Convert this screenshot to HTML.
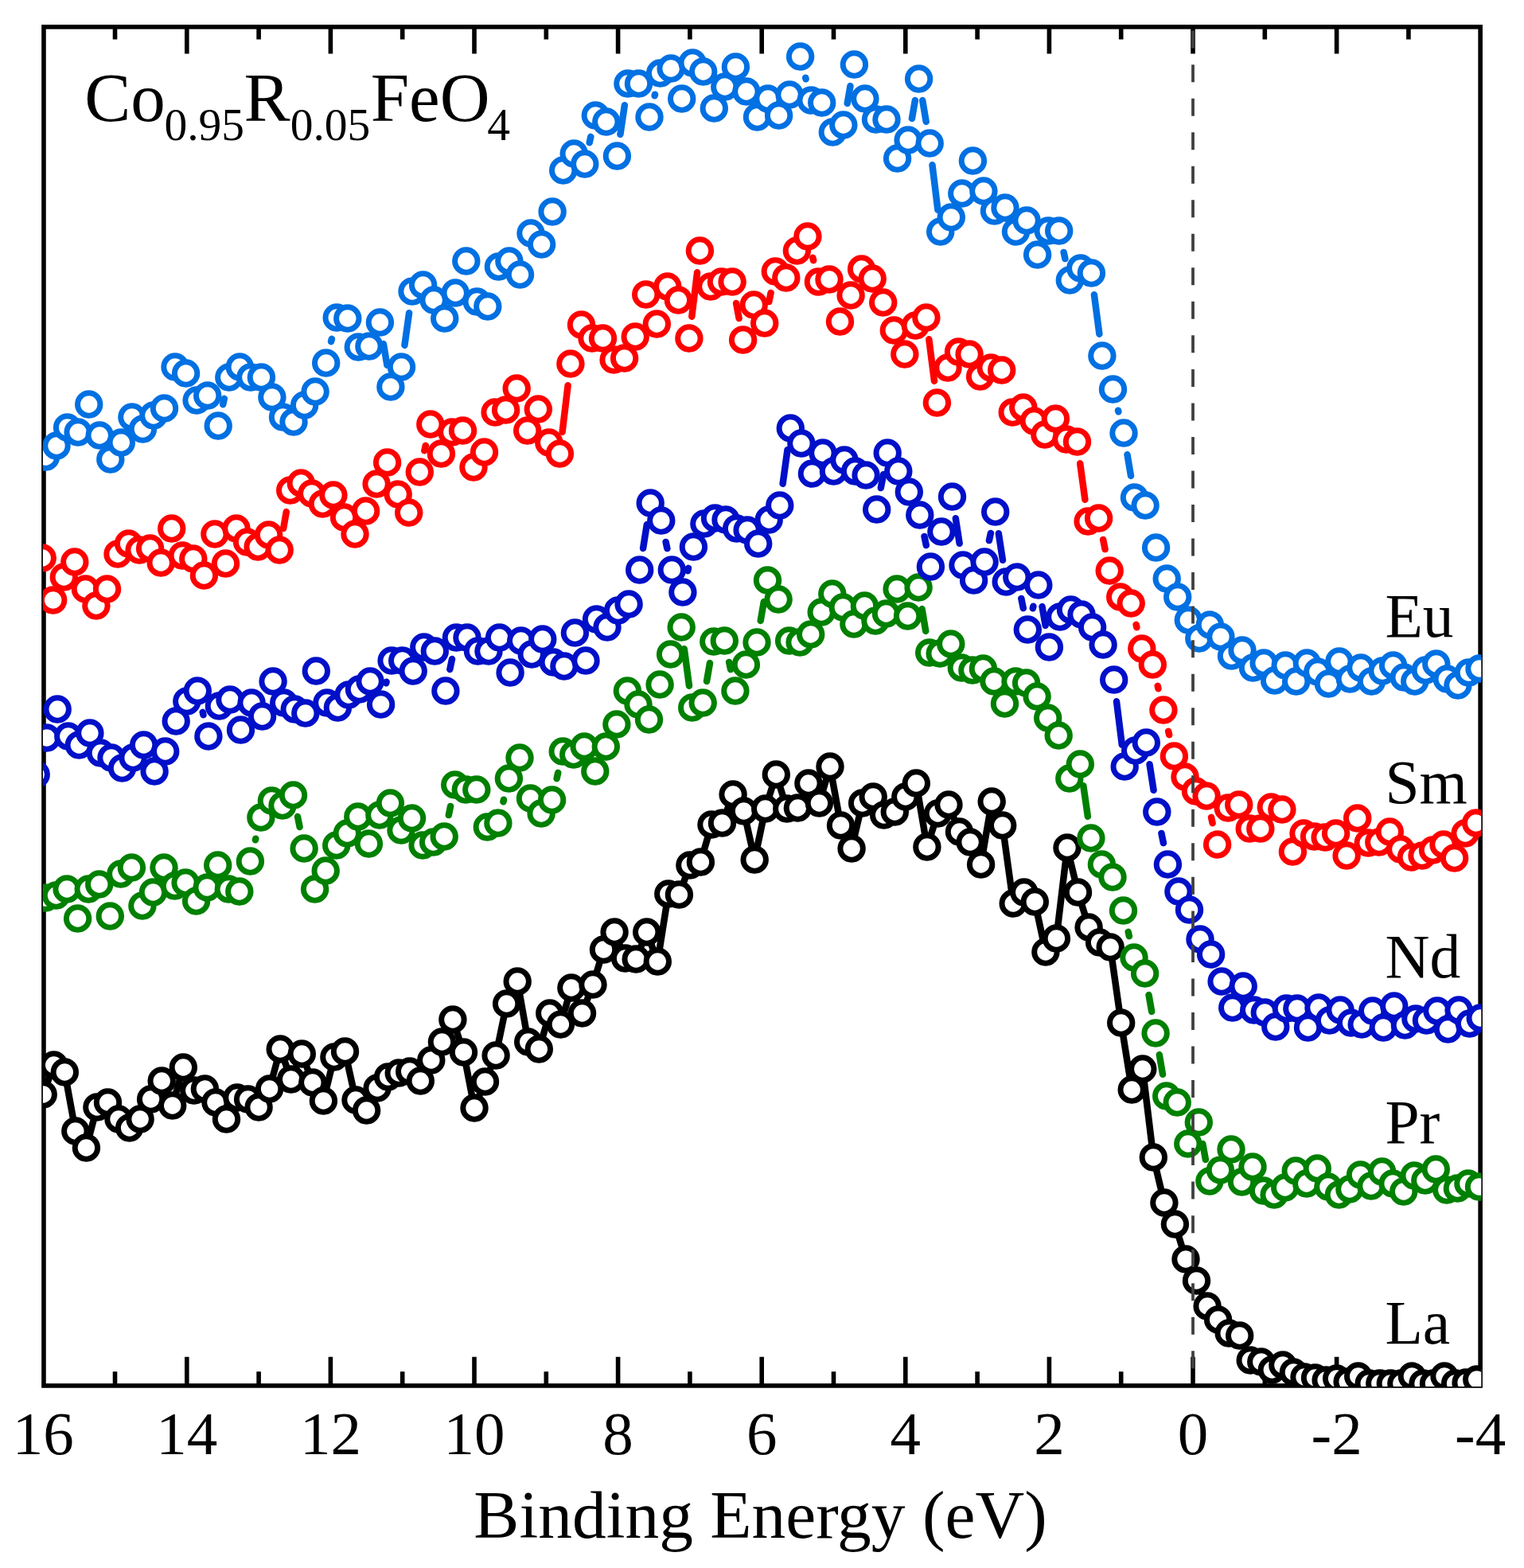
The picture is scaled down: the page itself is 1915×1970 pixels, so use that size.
<!DOCTYPE html><html><head><meta charset="utf-8"><style>html,body{margin:0;padding:0;background:#fff}svg{display:block}text{font-family:"Liberation Serif","Times New Roman",serif}</style></head><body>
<svg width="1915" height="1970" viewBox="0 0 1915 1970">
<rect width="1915" height="1970" fill="#fff"/>
<defs><clipPath id="c"><rect x="53.9" y="32.7" width="1807.4" height="1709.4"/></clipPath></defs>
<rect x="54.95" y="33.8" width="1805.2" height="1707.15" fill="none" stroke="#000" stroke-width="5.6"/>
<path d="M1769.9 36 V49.6 M1769.9 1739 V1723.3 M1679.6 36 V67.6 M1679.6 1739 V1704.8 M1589.3 36 V49.6 M1589.3 1739 V1723.3 M1499.0 36 V67.6 M1499.0 1739 V1704.8 M1408.7 36 V49.6 M1408.7 1739 V1723.3 M1318.4 36 V67.6 M1318.4 1739 V1704.8 M1228.1 36 V49.6 M1228.1 1739 V1723.3 M1137.8 36 V67.6 M1137.8 1739 V1704.8 M1047.5 36 V49.6 M1047.5 1739 V1723.3 M957.2 36 V67.6 M957.2 1739 V1704.8 M866.9 36 V49.6 M866.9 1739 V1723.3 M776.6 36 V67.6 M776.6 1739 V1704.8 M686.3 36 V49.6 M686.3 1739 V1723.3 M596.0 36 V67.6 M596.0 1739 V1704.8 M505.7 36 V49.6 M505.7 1739 V1723.3 M415.4 36 V67.6 M415.4 1739 V1704.8 M325.1 36 V49.6 M325.1 1739 V1723.3 M234.8 36 V67.6 M234.8 1739 V1704.8 M144.5 36 V49.6 M144.5 1739 V1723.3" stroke="#000" stroke-width="5.6" fill="none"/>
<g clip-path="url(#c)">
<path d="M54.2 1375.0 L67.7 1338.0 L81.3 1347.0 L94.8 1421.0 L108.4 1442.0 L121.9 1391.0 L135.5 1385.0 L149.0 1406.0 L162.6 1417.0 L176.1 1406.0 L189.6 1381.0 L203.2 1358.0 L216.7 1389.0 L230.3 1341.0 L243.8 1370.0 L257.4 1368.0 L270.9 1385.0 L284.5 1406.0 L298.0 1379.0 L311.6 1381.0 L325.1 1391.0 L338.6 1368.0 L352.2 1318.0 L365.7 1356.0 L379.3 1324.0 L392.8 1360.0 L406.4 1383.0 L419.9 1328.0 L433.5 1321.0 L447.0 1382.0 L460.6 1395.0 L474.1 1367.0 L487.6 1353.0 L501.2 1348.0 L514.7 1346.0 L528.3 1358.0 L541.8 1332.0 L555.4 1309.0 L568.9 1281.0 L582.5 1322.0 L596.0 1392.0 L609.5 1359.0 L623.1 1326.0 L636.6 1261.0 L650.2 1233.0 L663.7 1309.0 L677.3 1318.0 L690.8 1273.0 L704.4 1287.0 L717.9 1241.0 L731.5 1273.0 L745.0 1237.0 L758.5 1193.0 L772.1 1171.0 L785.6 1204.0 L799.2 1205.0 L812.7 1171.0 L826.3 1208.0 L839.8 1123.0 L853.4 1124.0 L866.9 1087.0 L880.4 1083.0 L894.0 1036.0 L907.5 1034.0 L921.1 998.0 L934.6 1019.0 L948.2 1080.0 L961.7 1016.0 L975.3 973.0 L988.8 1016.0 L1002.4 1015.0 L1015.9 984.0 L1029.4 1009.0 L1043.0 963.0 L1056.5 1037.0 L1070.1 1066.0 L1083.6 1009.0 L1097.2 1001.0 L1110.7 1024.0 L1124.3 1020.0 L1137.8 1001.0 L1151.3 984.0 L1164.9 1064.0 L1178.4 1022.0 L1192.0 1011.0 L1205.5 1045.0 L1219.1 1058.0 L1232.6 1086.0 L1246.2 1007.0 L1259.7 1037.0 L1273.2 1135.0 L1286.8 1121.0 L1300.3 1133.0 L1313.9 1196.0 L1327.4 1179.0 L1341.0 1065.0 L1354.5 1121.0 L1368.1 1165.0 L1381.6 1184.0 L1395.2 1190.0 L1408.7 1285.0 L1422.2 1369.0 L1435.8 1343.0 L1449.3 1454.0 L1462.9 1511.0 L1476.4 1538.0 L1490.0 1582.0 L1503.5 1609.0 L1517.1 1641.0 L1530.6 1658.0 L1544.2 1675.0 L1557.7 1678.0 L1571.2 1709.0 L1584.8 1711.0 L1598.3 1721.0 L1611.9 1715.0 L1625.4 1724.0 L1639.0 1730.0 L1652.5 1731.0 L1666.1 1734.0 L1679.6 1732.0 L1693.1 1736.0 L1706.7 1729.0 L1720.2 1738.0 L1733.8 1738.0 L1747.3 1738.0 L1760.9 1738.0 L1774.4 1729.0 L1788.0 1738.0 L1801.5 1738.0 L1815.0 1729.0 L1828.6 1738.0 L1842.1 1737.0 L1855.7 1733.0" fill="none" stroke="#000000" stroke-width="8.5" stroke-linejoin="round"/>
<g fill="#fff" stroke="#000000" stroke-width="7.0">
<circle cx="54.2" cy="1375.0" r="14.2"/>
<circle cx="67.7" cy="1338.0" r="14.2"/>
<circle cx="81.3" cy="1347.0" r="14.2"/>
<circle cx="94.8" cy="1421.0" r="14.2"/>
<circle cx="108.4" cy="1442.0" r="14.2"/>
<circle cx="121.9" cy="1391.0" r="14.2"/>
<circle cx="135.5" cy="1385.0" r="14.2"/>
<circle cx="149.0" cy="1406.0" r="14.2"/>
<circle cx="162.6" cy="1417.0" r="14.2"/>
<circle cx="176.1" cy="1406.0" r="14.2"/>
<circle cx="189.6" cy="1381.0" r="14.2"/>
<circle cx="203.2" cy="1358.0" r="14.2"/>
<circle cx="216.7" cy="1389.0" r="14.2"/>
<circle cx="230.3" cy="1341.0" r="14.2"/>
<circle cx="243.8" cy="1370.0" r="14.2"/>
<circle cx="257.4" cy="1368.0" r="14.2"/>
<circle cx="270.9" cy="1385.0" r="14.2"/>
<circle cx="284.5" cy="1406.0" r="14.2"/>
<circle cx="298.0" cy="1379.0" r="14.2"/>
<circle cx="311.6" cy="1381.0" r="14.2"/>
<circle cx="325.1" cy="1391.0" r="14.2"/>
<circle cx="338.6" cy="1368.0" r="14.2"/>
<circle cx="352.2" cy="1318.0" r="14.2"/>
<circle cx="365.7" cy="1356.0" r="14.2"/>
<circle cx="379.3" cy="1324.0" r="14.2"/>
<circle cx="392.8" cy="1360.0" r="14.2"/>
<circle cx="406.4" cy="1383.0" r="14.2"/>
<circle cx="419.9" cy="1328.0" r="14.2"/>
<circle cx="433.5" cy="1321.0" r="14.2"/>
<circle cx="447.0" cy="1382.0" r="14.2"/>
<circle cx="460.6" cy="1395.0" r="14.2"/>
<circle cx="474.1" cy="1367.0" r="14.2"/>
<circle cx="487.6" cy="1353.0" r="14.2"/>
<circle cx="501.2" cy="1348.0" r="14.2"/>
<circle cx="514.7" cy="1346.0" r="14.2"/>
<circle cx="528.3" cy="1358.0" r="14.2"/>
<circle cx="541.8" cy="1332.0" r="14.2"/>
<circle cx="555.4" cy="1309.0" r="14.2"/>
<circle cx="568.9" cy="1281.0" r="14.2"/>
<circle cx="582.5" cy="1322.0" r="14.2"/>
<circle cx="596.0" cy="1392.0" r="14.2"/>
<circle cx="609.5" cy="1359.0" r="14.2"/>
<circle cx="623.1" cy="1326.0" r="14.2"/>
<circle cx="636.6" cy="1261.0" r="14.2"/>
<circle cx="650.2" cy="1233.0" r="14.2"/>
<circle cx="663.7" cy="1309.0" r="14.2"/>
<circle cx="677.3" cy="1318.0" r="14.2"/>
<circle cx="690.8" cy="1273.0" r="14.2"/>
<circle cx="704.4" cy="1287.0" r="14.2"/>
<circle cx="717.9" cy="1241.0" r="14.2"/>
<circle cx="731.5" cy="1273.0" r="14.2"/>
<circle cx="745.0" cy="1237.0" r="14.2"/>
<circle cx="758.5" cy="1193.0" r="14.2"/>
<circle cx="772.1" cy="1171.0" r="14.2"/>
<circle cx="785.6" cy="1204.0" r="14.2"/>
<circle cx="799.2" cy="1205.0" r="14.2"/>
<circle cx="812.7" cy="1171.0" r="14.2"/>
<circle cx="826.3" cy="1208.0" r="14.2"/>
<circle cx="839.8" cy="1123.0" r="14.2"/>
<circle cx="853.4" cy="1124.0" r="14.2"/>
<circle cx="866.9" cy="1087.0" r="14.2"/>
<circle cx="880.4" cy="1083.0" r="14.2"/>
<circle cx="894.0" cy="1036.0" r="14.2"/>
<circle cx="907.5" cy="1034.0" r="14.2"/>
<circle cx="921.1" cy="998.0" r="14.2"/>
<circle cx="934.6" cy="1019.0" r="14.2"/>
<circle cx="948.2" cy="1080.0" r="14.2"/>
<circle cx="961.7" cy="1016.0" r="14.2"/>
<circle cx="975.3" cy="973.0" r="14.2"/>
<circle cx="988.8" cy="1016.0" r="14.2"/>
<circle cx="1002.4" cy="1015.0" r="14.2"/>
<circle cx="1015.9" cy="984.0" r="14.2"/>
<circle cx="1029.4" cy="1009.0" r="14.2"/>
<circle cx="1043.0" cy="963.0" r="14.2"/>
<circle cx="1056.5" cy="1037.0" r="14.2"/>
<circle cx="1070.1" cy="1066.0" r="14.2"/>
<circle cx="1083.6" cy="1009.0" r="14.2"/>
<circle cx="1097.2" cy="1001.0" r="14.2"/>
<circle cx="1110.7" cy="1024.0" r="14.2"/>
<circle cx="1124.3" cy="1020.0" r="14.2"/>
<circle cx="1137.8" cy="1001.0" r="14.2"/>
<circle cx="1151.3" cy="984.0" r="14.2"/>
<circle cx="1164.9" cy="1064.0" r="14.2"/>
<circle cx="1178.4" cy="1022.0" r="14.2"/>
<circle cx="1192.0" cy="1011.0" r="14.2"/>
<circle cx="1205.5" cy="1045.0" r="14.2"/>
<circle cx="1219.1" cy="1058.0" r="14.2"/>
<circle cx="1232.6" cy="1086.0" r="14.2"/>
<circle cx="1246.2" cy="1007.0" r="14.2"/>
<circle cx="1259.7" cy="1037.0" r="14.2"/>
<circle cx="1273.2" cy="1135.0" r="14.2"/>
<circle cx="1286.8" cy="1121.0" r="14.2"/>
<circle cx="1300.3" cy="1133.0" r="14.2"/>
<circle cx="1313.9" cy="1196.0" r="14.2"/>
<circle cx="1327.4" cy="1179.0" r="14.2"/>
<circle cx="1341.0" cy="1065.0" r="14.2"/>
<circle cx="1354.5" cy="1121.0" r="14.2"/>
<circle cx="1368.1" cy="1165.0" r="14.2"/>
<circle cx="1381.6" cy="1184.0" r="14.2"/>
<circle cx="1395.2" cy="1190.0" r="14.2"/>
<circle cx="1408.7" cy="1285.0" r="14.2"/>
<circle cx="1422.2" cy="1369.0" r="14.2"/>
<circle cx="1435.8" cy="1343.0" r="14.2"/>
<circle cx="1449.3" cy="1454.0" r="14.2"/>
<circle cx="1462.9" cy="1511.0" r="14.2"/>
<circle cx="1476.4" cy="1538.0" r="14.2"/>
<circle cx="1490.0" cy="1582.0" r="14.2"/>
<circle cx="1503.5" cy="1609.0" r="14.2"/>
<circle cx="1517.1" cy="1641.0" r="14.2"/>
<circle cx="1530.6" cy="1658.0" r="14.2"/>
<circle cx="1544.2" cy="1675.0" r="14.2"/>
<circle cx="1557.7" cy="1678.0" r="14.2"/>
<circle cx="1571.2" cy="1709.0" r="14.2"/>
<circle cx="1584.8" cy="1711.0" r="14.2"/>
<circle cx="1598.3" cy="1721.0" r="14.2"/>
<circle cx="1611.9" cy="1715.0" r="14.2"/>
<circle cx="1625.4" cy="1724.0" r="14.2"/>
<circle cx="1639.0" cy="1730.0" r="14.2"/>
<circle cx="1652.5" cy="1731.0" r="14.2"/>
<circle cx="1666.1" cy="1734.0" r="14.2"/>
<circle cx="1679.6" cy="1732.0" r="14.2"/>
<circle cx="1693.1" cy="1736.0" r="14.2"/>
<circle cx="1706.7" cy="1729.0" r="14.2"/>
<circle cx="1720.2" cy="1738.0" r="14.2"/>
<circle cx="1733.8" cy="1738.0" r="14.2"/>
<circle cx="1747.3" cy="1738.0" r="14.2"/>
<circle cx="1760.9" cy="1738.0" r="14.2"/>
<circle cx="1774.4" cy="1729.0" r="14.2"/>
<circle cx="1788.0" cy="1738.0" r="14.2"/>
<circle cx="1801.5" cy="1738.0" r="14.2"/>
<circle cx="1815.0" cy="1729.0" r="14.2"/>
<circle cx="1828.6" cy="1738.0" r="14.2"/>
<circle cx="1842.1" cy="1737.0" r="14.2"/>
<circle cx="1855.7" cy="1733.0" r="14.2"/>
</g>
<path d="M320.9 1055.3L321.3 1053.7M374.0 1026.0L376.6 1039.0M563.8 1024.1L566.1 1012.9M632.4 1007.3L633.0 1004.7M699.6 978.2L701.2 970.8M859.8 815.3L866.0 861.7M888.0 855.9L892.0 833.1M916.1 831.9L918.1 841.1M955.7 779.9L959.8 756.1M1158.6 765.1L1163.2 792.9M1361.3 987.2L1366.9 1025.8M1417.7 1170.8L1418.9 1176.2M1443.5 1250.1L1447.2 1270.9M1456.8 1325.1L1461.0 1349.9M1511.3 1437.1L1514.9 1456.9" fill="none" stroke="#008000" stroke-width="8.5" stroke-linecap="round"/>
<g fill="#fff" stroke="#008000" stroke-width="7.0">
<circle cx="57.0" cy="1128.0" r="14.2"/>
<circle cx="70.5" cy="1125.0" r="14.2"/>
<circle cx="84.1" cy="1117.0" r="14.2"/>
<circle cx="97.6" cy="1154.0" r="14.2"/>
<circle cx="111.2" cy="1117.0" r="14.2"/>
<circle cx="124.7" cy="1111.0" r="14.2"/>
<circle cx="138.3" cy="1151.0" r="14.2"/>
<circle cx="151.8" cy="1098.0" r="14.2"/>
<circle cx="165.4" cy="1090.0" r="14.2"/>
<circle cx="178.9" cy="1138.0" r="14.2"/>
<circle cx="192.4" cy="1121.0" r="14.2"/>
<circle cx="206.0" cy="1090.0" r="14.2"/>
<circle cx="219.5" cy="1113.0" r="14.2"/>
<circle cx="233.1" cy="1109.0" r="14.2"/>
<circle cx="246.6" cy="1132.0" r="14.2"/>
<circle cx="260.2" cy="1115.0" r="14.2"/>
<circle cx="273.7" cy="1087.0" r="14.2"/>
<circle cx="287.3" cy="1117.0" r="14.2"/>
<circle cx="300.8" cy="1120.0" r="14.2"/>
<circle cx="314.4" cy="1082.0" r="14.2"/>
<circle cx="327.9" cy="1027.0" r="14.2"/>
<circle cx="341.4" cy="1006.0" r="14.2"/>
<circle cx="355.0" cy="1012.0" r="14.2"/>
<circle cx="368.5" cy="999.0" r="14.2"/>
<circle cx="382.1" cy="1066.0" r="14.2"/>
<circle cx="395.6" cy="1117.0" r="14.2"/>
<circle cx="409.2" cy="1094.0" r="14.2"/>
<circle cx="422.7" cy="1062.0" r="14.2"/>
<circle cx="436.3" cy="1047.0" r="14.2"/>
<circle cx="449.8" cy="1026.0" r="14.2"/>
<circle cx="463.4" cy="1060.0" r="14.2"/>
<circle cx="476.9" cy="1024.0" r="14.2"/>
<circle cx="490.4" cy="1009.0" r="14.2"/>
<circle cx="504.0" cy="1043.0" r="14.2"/>
<circle cx="517.5" cy="1028.0" r="14.2"/>
<circle cx="531.1" cy="1062.0" r="14.2"/>
<circle cx="544.6" cy="1058.0" r="14.2"/>
<circle cx="558.2" cy="1051.0" r="14.2"/>
<circle cx="571.7" cy="986.0" r="14.2"/>
<circle cx="585.3" cy="992.0" r="14.2"/>
<circle cx="598.8" cy="992.0" r="14.2"/>
<circle cx="612.3" cy="1039.0" r="14.2"/>
<circle cx="625.9" cy="1034.0" r="14.2"/>
<circle cx="639.4" cy="978.0" r="14.2"/>
<circle cx="653.0" cy="952.0" r="14.2"/>
<circle cx="666.5" cy="1003.0" r="14.2"/>
<circle cx="680.1" cy="1022.0" r="14.2"/>
<circle cx="693.6" cy="1005.0" r="14.2"/>
<circle cx="707.2" cy="944.0" r="14.2"/>
<circle cx="720.7" cy="948.0" r="14.2"/>
<circle cx="734.2" cy="938.0" r="14.2"/>
<circle cx="747.8" cy="969.0" r="14.2"/>
<circle cx="761.3" cy="938.0" r="14.2"/>
<circle cx="774.9" cy="910.0" r="14.2"/>
<circle cx="788.4" cy="868.0" r="14.2"/>
<circle cx="802.0" cy="885.0" r="14.2"/>
<circle cx="815.5" cy="904.0" r="14.2"/>
<circle cx="829.1" cy="860.0" r="14.2"/>
<circle cx="842.6" cy="822.0" r="14.2"/>
<circle cx="856.2" cy="788.0" r="14.2"/>
<circle cx="869.7" cy="889.0" r="14.2"/>
<circle cx="883.2" cy="883.0" r="14.2"/>
<circle cx="896.8" cy="806.0" r="14.2"/>
<circle cx="910.3" cy="805.0" r="14.2"/>
<circle cx="923.9" cy="868.0" r="14.2"/>
<circle cx="937.4" cy="835.0" r="14.2"/>
<circle cx="951.0" cy="807.0" r="14.2"/>
<circle cx="964.5" cy="729.0" r="14.2"/>
<circle cx="978.1" cy="753.0" r="14.2"/>
<circle cx="991.6" cy="805.0" r="14.2"/>
<circle cx="1005.1" cy="807.0" r="14.2"/>
<circle cx="1018.7" cy="797.0" r="14.2"/>
<circle cx="1032.2" cy="769.0" r="14.2"/>
<circle cx="1045.8" cy="746.0" r="14.2"/>
<circle cx="1059.3" cy="763.0" r="14.2"/>
<circle cx="1072.9" cy="784.0" r="14.2"/>
<circle cx="1086.4" cy="761.0" r="14.2"/>
<circle cx="1100.0" cy="780.0" r="14.2"/>
<circle cx="1113.5" cy="771.0" r="14.2"/>
<circle cx="1127.1" cy="740.0" r="14.2"/>
<circle cx="1140.6" cy="774.0" r="14.2"/>
<circle cx="1154.1" cy="738.0" r="14.2"/>
<circle cx="1167.7" cy="820.0" r="14.2"/>
<circle cx="1181.2" cy="821.0" r="14.2"/>
<circle cx="1194.8" cy="809.0" r="14.2"/>
<circle cx="1208.3" cy="839.0" r="14.2"/>
<circle cx="1221.9" cy="842.0" r="14.2"/>
<circle cx="1235.4" cy="840.0" r="14.2"/>
<circle cx="1249.0" cy="856.0" r="14.2"/>
<circle cx="1262.5" cy="884.0" r="14.2"/>
<circle cx="1276.0" cy="856.0" r="14.2"/>
<circle cx="1289.6" cy="858.0" r="14.2"/>
<circle cx="1303.1" cy="875.0" r="14.2"/>
<circle cx="1316.7" cy="902.0" r="14.2"/>
<circle cx="1330.2" cy="924.0" r="14.2"/>
<circle cx="1343.8" cy="978.0" r="14.2"/>
<circle cx="1357.3" cy="960.0" r="14.2"/>
<circle cx="1370.9" cy="1053.0" r="14.2"/>
<circle cx="1384.4" cy="1086.0" r="14.2"/>
<circle cx="1398.0" cy="1102.0" r="14.2"/>
<circle cx="1411.5" cy="1144.0" r="14.2"/>
<circle cx="1425.0" cy="1203.0" r="14.2"/>
<circle cx="1438.6" cy="1223.0" r="14.2"/>
<circle cx="1452.1" cy="1298.0" r="14.2"/>
<circle cx="1465.7" cy="1377.0" r="14.2"/>
<circle cx="1479.2" cy="1385.0" r="14.2"/>
<circle cx="1492.8" cy="1437.0" r="14.2"/>
<circle cx="1506.3" cy="1410.0" r="14.2"/>
<circle cx="1519.9" cy="1484.0" r="14.2"/>
<circle cx="1533.4" cy="1470.0" r="14.2"/>
<circle cx="1547.0" cy="1444.0" r="14.2"/>
<circle cx="1560.5" cy="1485.0" r="14.2"/>
<circle cx="1574.0" cy="1466.0" r="14.2"/>
<circle cx="1587.6" cy="1496.0" r="14.2"/>
<circle cx="1601.1" cy="1501.0" r="14.2"/>
<circle cx="1614.7" cy="1492.0" r="14.2"/>
<circle cx="1628.2" cy="1471.0" r="14.2"/>
<circle cx="1641.8" cy="1487.0" r="14.2"/>
<circle cx="1655.3" cy="1468.0" r="14.2"/>
<circle cx="1668.9" cy="1491.0" r="14.2"/>
<circle cx="1682.4" cy="1501.0" r="14.2"/>
<circle cx="1695.9" cy="1494.0" r="14.2"/>
<circle cx="1709.5" cy="1476.0" r="14.2"/>
<circle cx="1723.0" cy="1490.0" r="14.2"/>
<circle cx="1736.6" cy="1472.0" r="14.2"/>
<circle cx="1750.1" cy="1487.0" r="14.2"/>
<circle cx="1763.7" cy="1497.0" r="14.2"/>
<circle cx="1777.2" cy="1477.0" r="14.2"/>
<circle cx="1790.8" cy="1483.0" r="14.2"/>
<circle cx="1804.3" cy="1469.0" r="14.2"/>
<circle cx="1817.8" cy="1495.0" r="14.2"/>
<circle cx="1831.4" cy="1493.0" r="14.2"/>
<circle cx="1844.9" cy="1487.0" r="14.2"/>
<circle cx="1858.5" cy="1491.0" r="14.2"/>
</g>
<path d="M254.7 894.8L255.5 898.2M485.2 858.3L485.6 856.7M565.3 841.0L568.0 828.0M808.1 688.9L812.8 659.1M836.6 680.9L838.4 689.1M864.2 717.2L865.0 713.8M983.6 607.8L989.5 565.2M1106.8 613.0L1110.1 596.0M1161.5 673.9L1163.8 685.1M1200.8 651.2L1205.7 682.8M1242.9 679.1L1244.9 669.9M1254.8 670.2L1260.0 703.8M1283.3 751.9L1285.8 764.1M1297.8 764.3L1298.4 761.7M1309.5 762.1L1313.7 785.9M1403.0 881.3L1409.8 935.7M1444.5 960.2L1449.6 992.8M1459.4 1046.9L1461.9 1059.1" fill="none" stroke="#0010C8" stroke-width="8.5" stroke-linecap="round"/>
<g fill="#fff" stroke="#0010C8" stroke-width="7.0">
<circle cx="45.2" cy="973.0" r="14.2"/>
<circle cx="58.7" cy="927.0" r="14.2"/>
<circle cx="72.2" cy="891.0" r="14.2"/>
<circle cx="85.8" cy="925.0" r="14.2"/>
<circle cx="99.3" cy="936.0" r="14.2"/>
<circle cx="112.9" cy="921.0" r="14.2"/>
<circle cx="126.4" cy="946.0" r="14.2"/>
<circle cx="140.0" cy="952.0" r="14.2"/>
<circle cx="153.5" cy="965.0" r="14.2"/>
<circle cx="167.1" cy="952.0" r="14.2"/>
<circle cx="180.6" cy="936.0" r="14.2"/>
<circle cx="194.1" cy="969.0" r="14.2"/>
<circle cx="207.7" cy="944.0" r="14.2"/>
<circle cx="221.2" cy="906.0" r="14.2"/>
<circle cx="234.8" cy="881.0" r="14.2"/>
<circle cx="248.3" cy="868.0" r="14.2"/>
<circle cx="261.9" cy="925.0" r="14.2"/>
<circle cx="275.4" cy="887.0" r="14.2"/>
<circle cx="289.0" cy="879.0" r="14.2"/>
<circle cx="302.5" cy="917.0" r="14.2"/>
<circle cx="316.1" cy="883.0" r="14.2"/>
<circle cx="329.6" cy="900.0" r="14.2"/>
<circle cx="343.1" cy="856.0" r="14.2"/>
<circle cx="356.7" cy="883.0" r="14.2"/>
<circle cx="370.2" cy="891.0" r="14.2"/>
<circle cx="383.8" cy="896.0" r="14.2"/>
<circle cx="397.3" cy="843.0" r="14.2"/>
<circle cx="410.9" cy="883.0" r="14.2"/>
<circle cx="424.4" cy="889.0" r="14.2"/>
<circle cx="438.0" cy="873.0" r="14.2"/>
<circle cx="451.5" cy="866.0" r="14.2"/>
<circle cx="465.1" cy="856.0" r="14.2"/>
<circle cx="478.6" cy="885.0" r="14.2"/>
<circle cx="492.1" cy="830.0" r="14.2"/>
<circle cx="505.7" cy="830.0" r="14.2"/>
<circle cx="519.2" cy="843.0" r="14.2"/>
<circle cx="532.8" cy="813.0" r="14.2"/>
<circle cx="546.3" cy="818.0" r="14.2"/>
<circle cx="559.9" cy="868.0" r="14.2"/>
<circle cx="573.4" cy="801.0" r="14.2"/>
<circle cx="587.0" cy="801.0" r="14.2"/>
<circle cx="600.5" cy="818.0" r="14.2"/>
<circle cx="614.0" cy="818.0" r="14.2"/>
<circle cx="627.6" cy="801.0" r="14.2"/>
<circle cx="641.1" cy="845.0" r="14.2"/>
<circle cx="654.7" cy="805.0" r="14.2"/>
<circle cx="668.2" cy="822.0" r="14.2"/>
<circle cx="681.8" cy="803.0" r="14.2"/>
<circle cx="695.3" cy="832.0" r="14.2"/>
<circle cx="708.9" cy="837.0" r="14.2"/>
<circle cx="722.4" cy="795.0" r="14.2"/>
<circle cx="736.0" cy="830.0" r="14.2"/>
<circle cx="749.5" cy="778.0" r="14.2"/>
<circle cx="763.0" cy="788.0" r="14.2"/>
<circle cx="776.6" cy="767.0" r="14.2"/>
<circle cx="790.1" cy="759.0" r="14.2"/>
<circle cx="803.7" cy="716.0" r="14.2"/>
<circle cx="817.2" cy="632.0" r="14.2"/>
<circle cx="830.8" cy="654.0" r="14.2"/>
<circle cx="844.3" cy="716.0" r="14.2"/>
<circle cx="857.9" cy="744.0" r="14.2"/>
<circle cx="871.4" cy="687.0" r="14.2"/>
<circle cx="884.9" cy="658.0" r="14.2"/>
<circle cx="898.5" cy="651.0" r="14.2"/>
<circle cx="912.0" cy="653.0" r="14.2"/>
<circle cx="925.6" cy="664.0" r="14.2"/>
<circle cx="939.1" cy="666.0" r="14.2"/>
<circle cx="952.7" cy="683.0" r="14.2"/>
<circle cx="966.2" cy="653.0" r="14.2"/>
<circle cx="979.8" cy="635.0" r="14.2"/>
<circle cx="993.3" cy="538.0" r="14.2"/>
<circle cx="1006.9" cy="557.0" r="14.2"/>
<circle cx="1020.4" cy="595.0" r="14.2"/>
<circle cx="1033.9" cy="569.0" r="14.2"/>
<circle cx="1047.5" cy="592.0" r="14.2"/>
<circle cx="1061.0" cy="578.0" r="14.2"/>
<circle cx="1074.6" cy="592.0" r="14.2"/>
<circle cx="1088.1" cy="597.0" r="14.2"/>
<circle cx="1101.7" cy="640.0" r="14.2"/>
<circle cx="1115.2" cy="569.0" r="14.2"/>
<circle cx="1128.8" cy="592.0" r="14.2"/>
<circle cx="1142.3" cy="618.0" r="14.2"/>
<circle cx="1155.8" cy="647.0" r="14.2"/>
<circle cx="1169.4" cy="712.0" r="14.2"/>
<circle cx="1182.9" cy="668.0" r="14.2"/>
<circle cx="1196.5" cy="624.0" r="14.2"/>
<circle cx="1210.0" cy="710.0" r="14.2"/>
<circle cx="1223.6" cy="729.0" r="14.2"/>
<circle cx="1237.1" cy="706.0" r="14.2"/>
<circle cx="1250.7" cy="643.0" r="14.2"/>
<circle cx="1264.2" cy="731.0" r="14.2"/>
<circle cx="1277.8" cy="725.0" r="14.2"/>
<circle cx="1291.3" cy="791.0" r="14.2"/>
<circle cx="1304.8" cy="735.0" r="14.2"/>
<circle cx="1318.4" cy="813.0" r="14.2"/>
<circle cx="1331.9" cy="775.0" r="14.2"/>
<circle cx="1345.5" cy="766.0" r="14.2"/>
<circle cx="1359.0" cy="772.0" r="14.2"/>
<circle cx="1372.6" cy="788.0" r="14.2"/>
<circle cx="1386.1" cy="810.0" r="14.2"/>
<circle cx="1399.7" cy="854.0" r="14.2"/>
<circle cx="1413.2" cy="963.0" r="14.2"/>
<circle cx="1426.7" cy="943.0" r="14.2"/>
<circle cx="1440.3" cy="933.0" r="14.2"/>
<circle cx="1453.8" cy="1020.0" r="14.2"/>
<circle cx="1467.4" cy="1086.0" r="14.2"/>
<circle cx="1480.9" cy="1120.0" r="14.2"/>
<circle cx="1494.5" cy="1143.0" r="14.2"/>
<circle cx="1508.0" cy="1180.0" r="14.2"/>
<circle cx="1521.6" cy="1199.0" r="14.2"/>
<circle cx="1535.1" cy="1233.0" r="14.2"/>
<circle cx="1548.7" cy="1266.0" r="14.2"/>
<circle cx="1562.2" cy="1239.0" r="14.2"/>
<circle cx="1575.7" cy="1269.0" r="14.2"/>
<circle cx="1589.3" cy="1272.0" r="14.2"/>
<circle cx="1602.8" cy="1290.0" r="14.2"/>
<circle cx="1616.4" cy="1267.0" r="14.2"/>
<circle cx="1629.9" cy="1267.0" r="14.2"/>
<circle cx="1643.5" cy="1291.0" r="14.2"/>
<circle cx="1657.0" cy="1266.0" r="14.2"/>
<circle cx="1670.6" cy="1282.0" r="14.2"/>
<circle cx="1684.1" cy="1269.0" r="14.2"/>
<circle cx="1697.6" cy="1285.0" r="14.2"/>
<circle cx="1711.2" cy="1287.0" r="14.2"/>
<circle cx="1724.7" cy="1270.0" r="14.2"/>
<circle cx="1738.3" cy="1291.0" r="14.2"/>
<circle cx="1751.8" cy="1264.0" r="14.2"/>
<circle cx="1765.4" cy="1288.0" r="14.2"/>
<circle cx="1778.9" cy="1280.0" r="14.2"/>
<circle cx="1792.5" cy="1282.0" r="14.2"/>
<circle cx="1806.0" cy="1270.0" r="14.2"/>
<circle cx="1819.5" cy="1293.0" r="14.2"/>
<circle cx="1833.1" cy="1269.0" r="14.2"/>
<circle cx="1846.6" cy="1286.0" r="14.2"/>
<circle cx="1860.2" cy="1279.0" r="14.2"/>
</g>
<path d="M356.1 663.9L359.8 643.1M533.3 566.2L534.8 559.8M706.6 542.7L713.6 484.3M869.3 397.7L876.1 342.3M925.1 381.0L928.6 400.0M966.3 379.1L968.6 367.9M1021.3 323.8L1022.1 327.2M1167.3 426.3L1174.0 478.7M1357.2 582.3L1363.4 627.7M1386.1 677.9L1388.6 690.1M1427.6 784.8L1428.4 788.2M1454.7 861.8L1455.5 865.2M1468.1 918.8L1469.2 923.2M1522.0 1026.8L1523.6 1034.2" fill="none" stroke="#FF0000" stroke-width="8.5" stroke-linecap="round"/>
<g fill="#fff" stroke="#FF0000" stroke-width="7.0">
<circle cx="53.2" cy="701.0" r="14.2"/>
<circle cx="66.7" cy="754.0" r="14.2"/>
<circle cx="80.3" cy="725.0" r="14.2"/>
<circle cx="93.8" cy="706.0" r="14.2"/>
<circle cx="107.4" cy="740.0" r="14.2"/>
<circle cx="120.9" cy="761.0" r="14.2"/>
<circle cx="134.5" cy="740.0" r="14.2"/>
<circle cx="148.0" cy="696.0" r="14.2"/>
<circle cx="161.6" cy="683.0" r="14.2"/>
<circle cx="175.1" cy="691.0" r="14.2"/>
<circle cx="188.6" cy="689.0" r="14.2"/>
<circle cx="202.2" cy="707.0" r="14.2"/>
<circle cx="215.7" cy="664.0" r="14.2"/>
<circle cx="229.3" cy="698.0" r="14.2"/>
<circle cx="242.8" cy="702.0" r="14.2"/>
<circle cx="256.4" cy="723.0" r="14.2"/>
<circle cx="269.9" cy="671.0" r="14.2"/>
<circle cx="283.5" cy="708.0" r="14.2"/>
<circle cx="297.0" cy="664.0" r="14.2"/>
<circle cx="310.6" cy="681.0" r="14.2"/>
<circle cx="324.1" cy="687.0" r="14.2"/>
<circle cx="337.6" cy="672.0" r="14.2"/>
<circle cx="351.2" cy="691.0" r="14.2"/>
<circle cx="364.7" cy="616.0" r="14.2"/>
<circle cx="378.3" cy="607.0" r="14.2"/>
<circle cx="391.8" cy="620.0" r="14.2"/>
<circle cx="405.4" cy="633.0" r="14.2"/>
<circle cx="418.9" cy="622.0" r="14.2"/>
<circle cx="432.5" cy="650.0" r="14.2"/>
<circle cx="446.0" cy="671.0" r="14.2"/>
<circle cx="459.6" cy="642.0" r="14.2"/>
<circle cx="473.1" cy="608.0" r="14.2"/>
<circle cx="486.6" cy="581.0" r="14.2"/>
<circle cx="500.2" cy="621.0" r="14.2"/>
<circle cx="513.7" cy="644.0" r="14.2"/>
<circle cx="527.3" cy="593.0" r="14.2"/>
<circle cx="540.8" cy="533.0" r="14.2"/>
<circle cx="554.4" cy="570.0" r="14.2"/>
<circle cx="567.9" cy="543.0" r="14.2"/>
<circle cx="581.5" cy="541.0" r="14.2"/>
<circle cx="595.0" cy="587.0" r="14.2"/>
<circle cx="608.5" cy="568.0" r="14.2"/>
<circle cx="622.1" cy="518.0" r="14.2"/>
<circle cx="635.6" cy="515.0" r="14.2"/>
<circle cx="649.2" cy="488.0" r="14.2"/>
<circle cx="662.7" cy="541.0" r="14.2"/>
<circle cx="676.3" cy="514.0" r="14.2"/>
<circle cx="689.8" cy="556.0" r="14.2"/>
<circle cx="703.4" cy="570.0" r="14.2"/>
<circle cx="716.9" cy="457.0" r="14.2"/>
<circle cx="730.5" cy="408.0" r="14.2"/>
<circle cx="744.0" cy="425.0" r="14.2"/>
<circle cx="757.5" cy="425.0" r="14.2"/>
<circle cx="771.1" cy="452.0" r="14.2"/>
<circle cx="784.6" cy="450.0" r="14.2"/>
<circle cx="798.2" cy="423.0" r="14.2"/>
<circle cx="811.7" cy="370.0" r="14.2"/>
<circle cx="825.3" cy="407.0" r="14.2"/>
<circle cx="838.8" cy="360.0" r="14.2"/>
<circle cx="852.4" cy="377.0" r="14.2"/>
<circle cx="865.9" cy="425.0" r="14.2"/>
<circle cx="879.4" cy="315.0" r="14.2"/>
<circle cx="893.0" cy="360.0" r="14.2"/>
<circle cx="906.5" cy="354.0" r="14.2"/>
<circle cx="920.1" cy="354.0" r="14.2"/>
<circle cx="933.6" cy="427.0" r="14.2"/>
<circle cx="947.2" cy="383.0" r="14.2"/>
<circle cx="960.7" cy="406.0" r="14.2"/>
<circle cx="974.3" cy="341.0" r="14.2"/>
<circle cx="987.8" cy="349.0" r="14.2"/>
<circle cx="1001.4" cy="315.0" r="14.2"/>
<circle cx="1014.9" cy="297.0" r="14.2"/>
<circle cx="1028.4" cy="354.0" r="14.2"/>
<circle cx="1042.0" cy="351.0" r="14.2"/>
<circle cx="1055.5" cy="404.0" r="14.2"/>
<circle cx="1069.1" cy="371.0" r="14.2"/>
<circle cx="1082.6" cy="338.0" r="14.2"/>
<circle cx="1096.2" cy="350.0" r="14.2"/>
<circle cx="1109.7" cy="380.0" r="14.2"/>
<circle cx="1123.3" cy="415.0" r="14.2"/>
<circle cx="1136.8" cy="445.0" r="14.2"/>
<circle cx="1150.3" cy="409.0" r="14.2"/>
<circle cx="1163.9" cy="399.0" r="14.2"/>
<circle cx="1177.4" cy="506.0" r="14.2"/>
<circle cx="1191.0" cy="462.0" r="14.2"/>
<circle cx="1204.5" cy="442.0" r="14.2"/>
<circle cx="1218.1" cy="445.0" r="14.2"/>
<circle cx="1231.6" cy="473.0" r="14.2"/>
<circle cx="1245.2" cy="462.0" r="14.2"/>
<circle cx="1258.7" cy="465.0" r="14.2"/>
<circle cx="1272.2" cy="518.0" r="14.2"/>
<circle cx="1285.8" cy="512.0" r="14.2"/>
<circle cx="1299.3" cy="529.0" r="14.2"/>
<circle cx="1312.9" cy="546.0" r="14.2"/>
<circle cx="1326.4" cy="526.0" r="14.2"/>
<circle cx="1340.0" cy="552.0" r="14.2"/>
<circle cx="1353.5" cy="555.0" r="14.2"/>
<circle cx="1367.1" cy="655.0" r="14.2"/>
<circle cx="1380.6" cy="651.0" r="14.2"/>
<circle cx="1394.2" cy="717.0" r="14.2"/>
<circle cx="1407.7" cy="750.0" r="14.2"/>
<circle cx="1421.2" cy="758.0" r="14.2"/>
<circle cx="1434.8" cy="815.0" r="14.2"/>
<circle cx="1448.3" cy="835.0" r="14.2"/>
<circle cx="1461.9" cy="892.0" r="14.2"/>
<circle cx="1475.4" cy="950.0" r="14.2"/>
<circle cx="1489.0" cy="976.0" r="14.2"/>
<circle cx="1502.5" cy="994.0" r="14.2"/>
<circle cx="1516.1" cy="1000.0" r="14.2"/>
<circle cx="1529.6" cy="1061.0" r="14.2"/>
<circle cx="1543.2" cy="1015.0" r="14.2"/>
<circle cx="1556.7" cy="1011.0" r="14.2"/>
<circle cx="1570.2" cy="1041.0" r="14.2"/>
<circle cx="1583.8" cy="1041.0" r="14.2"/>
<circle cx="1597.3" cy="1014.0" r="14.2"/>
<circle cx="1610.9" cy="1017.0" r="14.2"/>
<circle cx="1624.4" cy="1070.0" r="14.2"/>
<circle cx="1638.0" cy="1047.0" r="14.2"/>
<circle cx="1651.5" cy="1051.0" r="14.2"/>
<circle cx="1665.1" cy="1052.0" r="14.2"/>
<circle cx="1678.6" cy="1047.0" r="14.2"/>
<circle cx="1692.1" cy="1075.0" r="14.2"/>
<circle cx="1705.7" cy="1028.0" r="14.2"/>
<circle cx="1719.2" cy="1059.0" r="14.2"/>
<circle cx="1732.8" cy="1058.0" r="14.2"/>
<circle cx="1746.3" cy="1045.0" r="14.2"/>
<circle cx="1759.9" cy="1067.0" r="14.2"/>
<circle cx="1773.4" cy="1077.0" r="14.2"/>
<circle cx="1787.0" cy="1075.0" r="14.2"/>
<circle cx="1800.5" cy="1068.0" r="14.2"/>
<circle cx="1814.0" cy="1061.0" r="14.2"/>
<circle cx="1827.6" cy="1078.0" r="14.2"/>
<circle cx="1841.1" cy="1047.0" r="14.2"/>
<circle cx="1854.7" cy="1034.0" r="14.2"/>
</g>
<path d="M280.2 508.2L281.8 500.8M416.0 429.2L416.9 425.8M481.9 432.1L486.4 458.9M508.4 433.8L514.1 393.2M740.7 179.2L742.3 171.8M779.4 168.8L784.9 132.2M822.6 120.3L823.0 118.7M1012.2 97.7L1012.6 99.3M1064.7 129.9L1068.5 108.1M1145.9 148.9L1149.9 126.1M1159.2 126.1L1163.7 152.9M1171.5 207.3L1178.4 263.7M1336.6 316.9L1338.4 325.1M1374.9 370.3L1381.4 419.7M1405.0 515.7L1405.4 517.3M1416.5 571.1L1421.0 597.9" fill="none" stroke="#0070E2" stroke-width="8.5" stroke-linecap="round"/>
<g fill="#fff" stroke="#0070E2" stroke-width="7.0">
<circle cx="57.5" cy="574.0" r="14.2"/>
<circle cx="71.0" cy="560.0" r="14.2"/>
<circle cx="84.6" cy="537.0" r="14.2"/>
<circle cx="98.1" cy="543.0" r="14.2"/>
<circle cx="111.7" cy="508.0" r="14.2"/>
<circle cx="125.2" cy="547.0" r="14.2"/>
<circle cx="138.8" cy="577.0" r="14.2"/>
<circle cx="152.3" cy="556.0" r="14.2"/>
<circle cx="165.9" cy="524.0" r="14.2"/>
<circle cx="179.4" cy="539.0" r="14.2"/>
<circle cx="192.9" cy="522.0" r="14.2"/>
<circle cx="206.5" cy="513.0" r="14.2"/>
<circle cx="220.0" cy="461.0" r="14.2"/>
<circle cx="233.6" cy="469.0" r="14.2"/>
<circle cx="247.1" cy="503.0" r="14.2"/>
<circle cx="260.7" cy="497.0" r="14.2"/>
<circle cx="274.2" cy="535.0" r="14.2"/>
<circle cx="287.8" cy="474.0" r="14.2"/>
<circle cx="301.3" cy="461.0" r="14.2"/>
<circle cx="314.9" cy="474.0" r="14.2"/>
<circle cx="328.4" cy="474.0" r="14.2"/>
<circle cx="341.9" cy="499.0" r="14.2"/>
<circle cx="355.5" cy="524.0" r="14.2"/>
<circle cx="369.0" cy="530.0" r="14.2"/>
<circle cx="382.6" cy="509.0" r="14.2"/>
<circle cx="396.1" cy="492.0" r="14.2"/>
<circle cx="409.7" cy="456.0" r="14.2"/>
<circle cx="423.2" cy="399.0" r="14.2"/>
<circle cx="436.8" cy="400.0" r="14.2"/>
<circle cx="450.3" cy="436.0" r="14.2"/>
<circle cx="463.9" cy="435.0" r="14.2"/>
<circle cx="477.4" cy="405.0" r="14.2"/>
<circle cx="490.9" cy="486.0" r="14.2"/>
<circle cx="504.5" cy="461.0" r="14.2"/>
<circle cx="518.0" cy="366.0" r="14.2"/>
<circle cx="531.6" cy="358.0" r="14.2"/>
<circle cx="545.1" cy="377.0" r="14.2"/>
<circle cx="558.7" cy="400.0" r="14.2"/>
<circle cx="572.2" cy="368.0" r="14.2"/>
<circle cx="585.8" cy="328.0" r="14.2"/>
<circle cx="599.3" cy="379.0" r="14.2"/>
<circle cx="612.8" cy="385.0" r="14.2"/>
<circle cx="626.4" cy="335.0" r="14.2"/>
<circle cx="639.9" cy="328.0" r="14.2"/>
<circle cx="653.5" cy="345.0" r="14.2"/>
<circle cx="667.0" cy="293.0" r="14.2"/>
<circle cx="680.6" cy="307.0" r="14.2"/>
<circle cx="694.1" cy="266.0" r="14.2"/>
<circle cx="707.7" cy="214.0" r="14.2"/>
<circle cx="721.2" cy="193.0" r="14.2"/>
<circle cx="734.8" cy="206.0" r="14.2"/>
<circle cx="748.3" cy="145.0" r="14.2"/>
<circle cx="761.8" cy="153.0" r="14.2"/>
<circle cx="775.4" cy="196.0" r="14.2"/>
<circle cx="788.9" cy="105.0" r="14.2"/>
<circle cx="802.5" cy="105.0" r="14.2"/>
<circle cx="816.0" cy="147.0" r="14.2"/>
<circle cx="829.6" cy="92.0" r="14.2"/>
<circle cx="843.1" cy="86.0" r="14.2"/>
<circle cx="856.7" cy="124.0" r="14.2"/>
<circle cx="870.2" cy="79.0" r="14.2"/>
<circle cx="883.7" cy="90.0" r="14.2"/>
<circle cx="897.3" cy="136.0" r="14.2"/>
<circle cx="910.8" cy="109.0" r="14.2"/>
<circle cx="924.4" cy="84.0" r="14.2"/>
<circle cx="937.9" cy="115.0" r="14.2"/>
<circle cx="951.5" cy="147.0" r="14.2"/>
<circle cx="965.0" cy="124.0" r="14.2"/>
<circle cx="978.6" cy="145.0" r="14.2"/>
<circle cx="992.1" cy="119.0" r="14.2"/>
<circle cx="1005.6" cy="71.0" r="14.2"/>
<circle cx="1019.2" cy="126.0" r="14.2"/>
<circle cx="1032.7" cy="129.0" r="14.2"/>
<circle cx="1046.3" cy="166.0" r="14.2"/>
<circle cx="1059.8" cy="157.0" r="14.2"/>
<circle cx="1073.4" cy="81.0" r="14.2"/>
<circle cx="1086.9" cy="124.0" r="14.2"/>
<circle cx="1100.5" cy="150.0" r="14.2"/>
<circle cx="1114.0" cy="150.0" r="14.2"/>
<circle cx="1127.6" cy="199.0" r="14.2"/>
<circle cx="1141.1" cy="176.0" r="14.2"/>
<circle cx="1154.6" cy="99.0" r="14.2"/>
<circle cx="1168.2" cy="180.0" r="14.2"/>
<circle cx="1181.7" cy="291.0" r="14.2"/>
<circle cx="1195.3" cy="273.0" r="14.2"/>
<circle cx="1208.8" cy="243.0" r="14.2"/>
<circle cx="1222.4" cy="202.0" r="14.2"/>
<circle cx="1235.9" cy="240.0" r="14.2"/>
<circle cx="1249.5" cy="265.0" r="14.2"/>
<circle cx="1263.0" cy="261.0" r="14.2"/>
<circle cx="1276.5" cy="291.0" r="14.2"/>
<circle cx="1290.1" cy="277.0" r="14.2"/>
<circle cx="1303.6" cy="320.0" r="14.2"/>
<circle cx="1317.2" cy="290.0" r="14.2"/>
<circle cx="1330.7" cy="290.0" r="14.2"/>
<circle cx="1344.3" cy="352.0" r="14.2"/>
<circle cx="1357.8" cy="337.0" r="14.2"/>
<circle cx="1371.4" cy="343.0" r="14.2"/>
<circle cx="1384.9" cy="447.0" r="14.2"/>
<circle cx="1398.5" cy="489.0" r="14.2"/>
<circle cx="1412.0" cy="544.0" r="14.2"/>
<circle cx="1425.5" cy="625.0" r="14.2"/>
<circle cx="1439.1" cy="635.0" r="14.2"/>
<circle cx="1452.6" cy="688.0" r="14.2"/>
<circle cx="1466.2" cy="727.0" r="14.2"/>
<circle cx="1479.7" cy="750.0" r="14.2"/>
<circle cx="1493.3" cy="779.0" r="14.2"/>
<circle cx="1506.8" cy="802.0" r="14.2"/>
<circle cx="1520.4" cy="785.0" r="14.2"/>
<circle cx="1533.9" cy="800.0" r="14.2"/>
<circle cx="1547.5" cy="824.0" r="14.2"/>
<circle cx="1561.0" cy="817.0" r="14.2"/>
<circle cx="1574.5" cy="839.0" r="14.2"/>
<circle cx="1588.1" cy="833.0" r="14.2"/>
<circle cx="1601.6" cy="855.0" r="14.2"/>
<circle cx="1615.2" cy="836.0" r="14.2"/>
<circle cx="1628.7" cy="856.0" r="14.2"/>
<circle cx="1642.3" cy="833.0" r="14.2"/>
<circle cx="1655.8" cy="844.0" r="14.2"/>
<circle cx="1669.4" cy="859.0" r="14.2"/>
<circle cx="1682.9" cy="831.0" r="14.2"/>
<circle cx="1696.4" cy="853.0" r="14.2"/>
<circle cx="1710.0" cy="839.0" r="14.2"/>
<circle cx="1723.5" cy="856.0" r="14.2"/>
<circle cx="1737.1" cy="843.0" r="14.2"/>
<circle cx="1750.6" cy="836.0" r="14.2"/>
<circle cx="1764.2" cy="851.0" r="14.2"/>
<circle cx="1777.7" cy="856.0" r="14.2"/>
<circle cx="1791.3" cy="842.0" r="14.2"/>
<circle cx="1804.8" cy="834.0" r="14.2"/>
<circle cx="1818.3" cy="853.0" r="14.2"/>
<circle cx="1831.9" cy="861.0" r="14.2"/>
<circle cx="1845.4" cy="845.0" r="14.2"/>
<circle cx="1859.0" cy="840.0" r="14.2"/>
</g>
</g>
<line x1="1499" y1="38.6" x2="1499" y2="1738.2" stroke="#404040" stroke-width="3.8" stroke-dasharray="22 20.53"/>
<text x="1860.2" y="1827" font-size="77" text-anchor="middle">-4</text>
<text x="1679.6" y="1827" font-size="77" text-anchor="middle">-2</text>
<text x="1499.0" y="1827" font-size="77" text-anchor="middle">0</text>
<text x="1318.4" y="1827" font-size="77" text-anchor="middle">2</text>
<text x="1137.8" y="1827" font-size="77" text-anchor="middle">4</text>
<text x="957.2" y="1827" font-size="77" text-anchor="middle">6</text>
<text x="776.6" y="1827" font-size="77" text-anchor="middle">8</text>
<text x="596.0" y="1827" font-size="77" text-anchor="middle">10</text>
<text x="415.4" y="1827" font-size="77" text-anchor="middle">12</text>
<text x="234.8" y="1827" font-size="77" text-anchor="middle">14</text>
<text x="54.2" y="1827" font-size="77" text-anchor="middle">16</text>
<text x="955.5" y="1932" font-size="85.5" text-anchor="middle">Binding Energy (eV)</text>
<text x="106.3" y="152" font-size="87">Co<tspan font-size="57.5" dx="-1.4" dy="23.5">0.95</tspan><tspan dx="-0.6" dy="-23.5">R</tspan><tspan font-size="57.5" dx="0.2" dy="23.5">0.05</tspan><tspan dx="0.4" dy="-23.5">FeO</tspan><tspan font-size="57.5" dx="-3.4" dy="23.5">4</tspan></text>
<text x="1740.5" y="800" font-size="77.5">Eu</text>
<text x="1740.5" y="1008.6" font-size="77.5">Sm</text>
<text x="1740.5" y="1227.5" font-size="77.5">Nd</text>
<text x="1740.5" y="1436.4" font-size="77.5">Pr</text>
<text x="1740.5" y="1688" font-size="77.5">La</text>
</svg></body></html>
